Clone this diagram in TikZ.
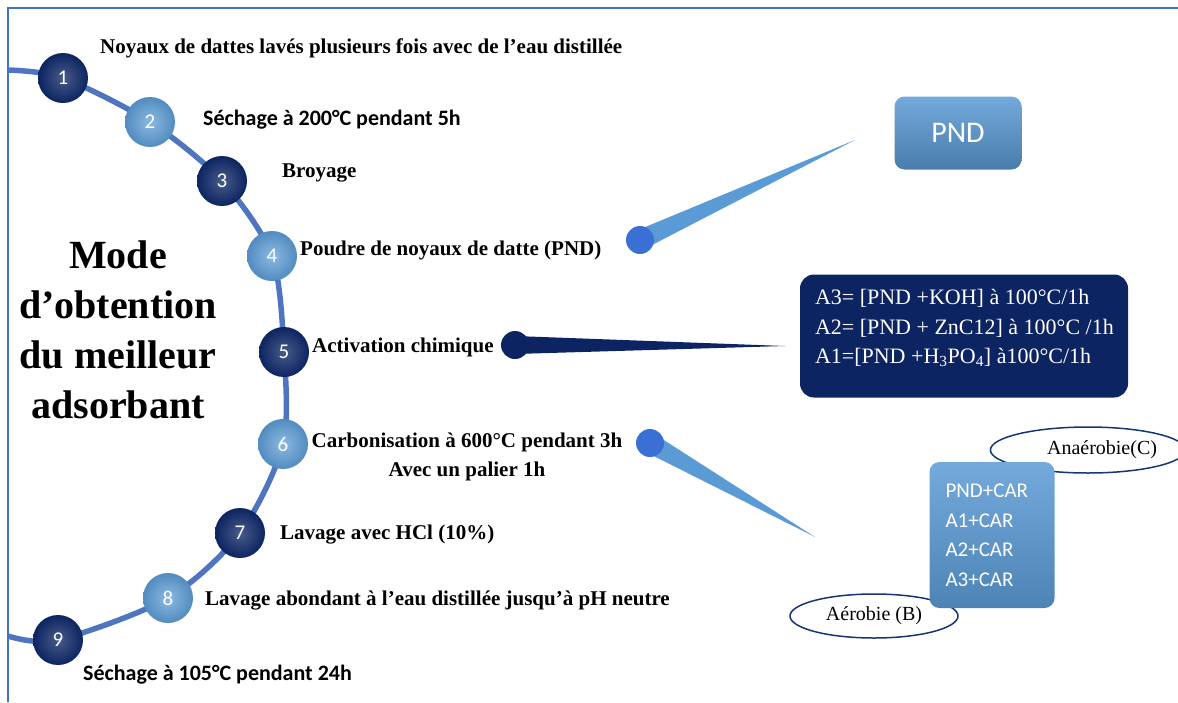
\documentclass[tikz,border=0pt]{standalone}
\usepackage{fontspec}
\setmainfont{Liberation Serif}
\newfontfamily\calibri{Carlito}
\usetikzlibrary{positioning,calc,shapes.geometric,backgrounds}

\definecolor{marine}{HTML}{0C2461}
\definecolor{ciel}{HTML}{5B9BD5}
\definecolor{trait}{HTML}{4F74C0}
\definecolor{cadre}{HTML}{4472C4}
\definecolor{point}{HTML}{3A6FD3}

\begin{document}
\begin{tikzpicture}[x=1pt, y=-1pt,
  etape/.style={circle, minimum size=50pt, inner sep=0pt, text=white, font=\calibri\fontsize{21}{21}\selectfont},
  fonce/.style={etape, shading=radial, inner color=marine!75!white, outer color=marine},
  clair/.style={etape, shading=radial, inner color=ciel!70!white, outer color=ciel!90!black},
  libelle/.style={inner sep=0pt, anchor=west, font=\fontsize{21}{29}\selectfont\bfseries},
  libsans/.style={inner sep=0pt, anchor=west, font=\calibri\fontsize{22}{22}\selectfont\bfseries},
  boite/.style={rectangle, rounded corners=10pt, inner sep=0pt, text=white},
  bulle/.style={ellipse, draw=marine!80!cadre, line width=1.5pt, fill=white, inner sep=0pt, font=\fontsize{20}{20}\selectfont},
  ligne/.style={trait, line width=5.5pt},
  puce/.style={circle, minimum size=28pt, inner sep=0pt},
  fuseau/.style={ciel}
]
\useasboundingbox (0,0) rectangle (1178,702);
\draw[cadre, line width=1.2pt] (8,702) -- (8,8) -- (1178,8);

% Etapes sur l'arc
\node[fonce] (e1) at (63,78) {1};
\node[clair] (e2) at (150,122) {2};
\node[fonce] (e3) at (222,181) {3};
\node[clair] (e4) at (272,256) {4};
\node[fonce] (e5) at (284,352) {5};
\node[clair] (e6) at (283,444) {6};
\node[fonce] (e7) at (240,533) {7};
\node[clair] (e8) at (168,598) {8};
\node[fonce] (e9) at (58,640) {9};
\coordinate (debut) at (8,70);
\coordinate (fin) at (8,636);
\begin{scope}[on background layer]
  \draw[ligne] plot[smooth] coordinates {(debut) (e1) (e2) (e3) (e4) (e5) (e6) (e7) (e8) (e9) (fin)};
\end{scope}

% Titre
\node[align=center, font=\fontsize{40}{50}\selectfont\bfseries] (titre) at (118,330) {Mode\\d’obtention\\du meilleur\\adsorbant};

% Libelles des etapes
\node[libelle] (l1) at (100,48) {Noyaux de dattes lavés plusieurs fois avec de l’eau distillée};
\node[libsans] (l2) at (203,120) {Séchage à 200°C pendant 5h};
\node[libelle] (l3) at (282,173) {Broyage};
\node[libelle] (l4) at (300,250) {Poudre de noyaux de datte (PND)};
\node[libelle] (l5) at (312,347) {Activation chimique};
\node[libelle, anchor=center, align=center] (l6) at (467,457) {Carbonisation à 600°C pendant 3h\\Avec un palier 1h};
\node[libelle] (l7) at (280,535) {Lavage avec HCl (10\%)};
\node[libelle] (l8) at (205,601) {Lavage abondant à l’eau distillée jusqu’à pH neutre};
\node[libsans] (l9) at (83,675) {Séchage à 105°C pendant 24h};

% Boites de droite
\node[boite, minimum width=127pt, minimum height=73pt, top color=ciel!85!white, bottom color=ciel!80!black,
  font=\calibri\fontsize{30}{30}\selectfont] (pnd) at (958,133) {PND};
\node[boite, rounded corners=14pt, fill=marine, minimum width=328pt, minimum height=123pt] (actives) at (964,336) {};
\node[inner sep=0pt, anchor=west, align=left, text=white, font=\fontsize{22}{29.5}\selectfont]
  (actxt) at ([xshift=15pt, yshift=8pt]actives.west)
  {A3= [PND +KOH] à 100°C/1h\\A2= [PND + ZnC12] à 100°C /1h\\A1=[PND +H\textsubscript{3}PO\textsubscript{4}] à100°C/1h};
\node[bulle, minimum width=165pt, minimum height=46pt, text width=138pt, align=right] (anaer) at (1088,450) {Anaérobie(C)};
\node[bulle, minimum width=168pt, minimum height=44pt] (aer) at (874,616) {Aérobie (B)};
\node[boite, minimum width=125pt, minimum height=146pt, text width=93pt, inner xsep=16pt, align=left,
  top color=ciel!85!white, bottom color=ciel!85!black, font=\calibri\fontsize{21}{29.5}\selectfont] (car) at (992,535)
  {PND+CAR\\A1+CAR\\A2+CAR\\A3+CAR};

% Fuseaux
\node[puce, fill=point] (p4) at (640,240) {};
\coordinate (b4) at (855,140);
\node[puce, fill=marine] (p5) at (515,345) {};
\coordinate (b5) at (785,346);
\node[puce, fill=point] (p6) at (650,443) {};
\coordinate (b6) at (815,537);
\begin{scope}[on background layer]
  \fill[fuseau] ($(p4)!10pt!90:(b4)$) -- (b4) -- ($(p4)!10pt!-90:(b4)$) -- cycle;
  \fill[marine] ($(p5)!9pt!90:(b5)$) -- (b5) -- ($(p5)!9pt!-90:(b5)$) -- cycle;
  \fill[fuseau] ($(p6)!10pt!90:(b6)$) -- (b6) -- ($(p6)!10pt!-90:(b6)$) -- cycle;
\end{scope}
\end{tikzpicture}
\end{document}
